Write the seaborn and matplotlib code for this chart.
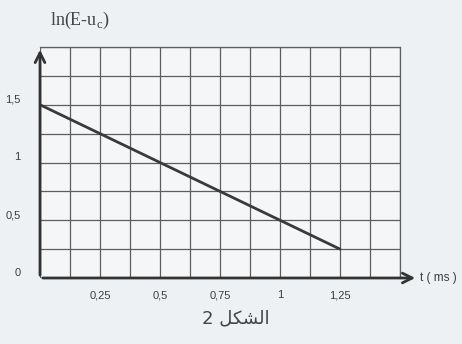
import matplotlib
matplotlib.use("Agg")
import matplotlib.pyplot as plt
import matplotlib.transforms as mtransforms
import seaborn as sns
from matplotlib.ticker import MultipleLocator

# data: ln(E-uc) versus t (ms)
t_ms = [0, 1.25]
ln_vals = [1.5, 0.25]

x_ticks = [0.25, 0.5, 0.75, 1, 1.25]
x_labels = ["0,25", "0,5", "0,75", "1", "1,25"]
y_ticks = [0, 0.5, 1, 1.5]
y_labels = ["0", "0,5", "1", "1,5"]

sns.set_style("white")
plt.rcParams['font.family'] = ['Liberation Sans', 'DejaVu Sans']

bg = "#eef1f3"
fig = plt.figure(figsize=(4.62, 3.44), dpi=100, facecolor=bg)
ax = fig.add_axes([40/462, 1-278/344, 360/462, 231/344])
ax.set_facecolor("#f5f6f7")

sns.lineplot(x=t_ms, y=ln_vals, ax=ax, color="#3a3a3a", linewidth=2.0)

ax.set_xlim(0, 1.5)
ax.set_ylim(0, 2.0)
ax.set_xticks(x_ticks)
ax.set_xticklabels(x_labels)
ax.set_yticks(y_ticks)
ax.set_yticklabels(y_labels)
ax.xaxis.set_minor_locator(MultipleLocator(0.125))
ax.yaxis.set_minor_locator(MultipleLocator(0.25))
ax.grid(which="both", color="#5e5e5e", linewidth=0.9)
ax.tick_params(which="both", length=0, labelsize=8, colors="#3c3c3c")
ax.tick_params(axis="x", pad=9)
ax.tick_params(axis="y", pad=14)
ax.set_xlabel("")
ax.set_ylabel("")

# y labels sit a little above their grid lines in the original
shift = mtransforms.ScaledTranslation(0, 6/100, fig.dpi_scale_trans)
for lab in ax.get_yticklabels():
    lab.set_transform(lab.get_transform() + shift)

for s in ["top", "right"]:
    ax.spines[s].set_color("#5e5e5e")
    ax.spines[s].set_linewidth(0.9)
for s in ["left", "bottom"]:
    ax.spines[s].set_visible(False)

# axes with arrows
ax.annotate("", xy=(1.05, 0), xycoords="axes fraction", xytext=(0, 0),
            arrowprops=dict(arrowstyle="->,head_length=0.7,head_width=0.35", lw=2, color="#333333"),
            annotation_clip=False)
ax.annotate("", xy=(0, 1.0), xycoords="axes fraction", xytext=(0, 0),
            arrowprops=dict(arrowstyle="->,head_length=0.7,head_width=0.35", lw=2, color="#333333"),
            annotation_clip=False)

fig.text(50/462, 1-20/344, r"ln(E-u$_\mathregular{c}$)", fontsize=13,
         family=["Liberation Serif", "DejaVu Serif"], color="#444444", va="center")
fig.text(420/462, 1-278/344, "t ( ms )", fontsize=8.5, color="#3c3c3c", va="center")
cap = "2 " + "\uFEDE\uFEDC\uFEB8\uFEDF\uFE8D"
fig.text(236/462, 1-318/344, cap, fontsize=13, color="#444444", ha="center", va="center",
         family=["DejaVu Sans"])

fig.savefig("out.png", dpi=100, facecolor=bg)
